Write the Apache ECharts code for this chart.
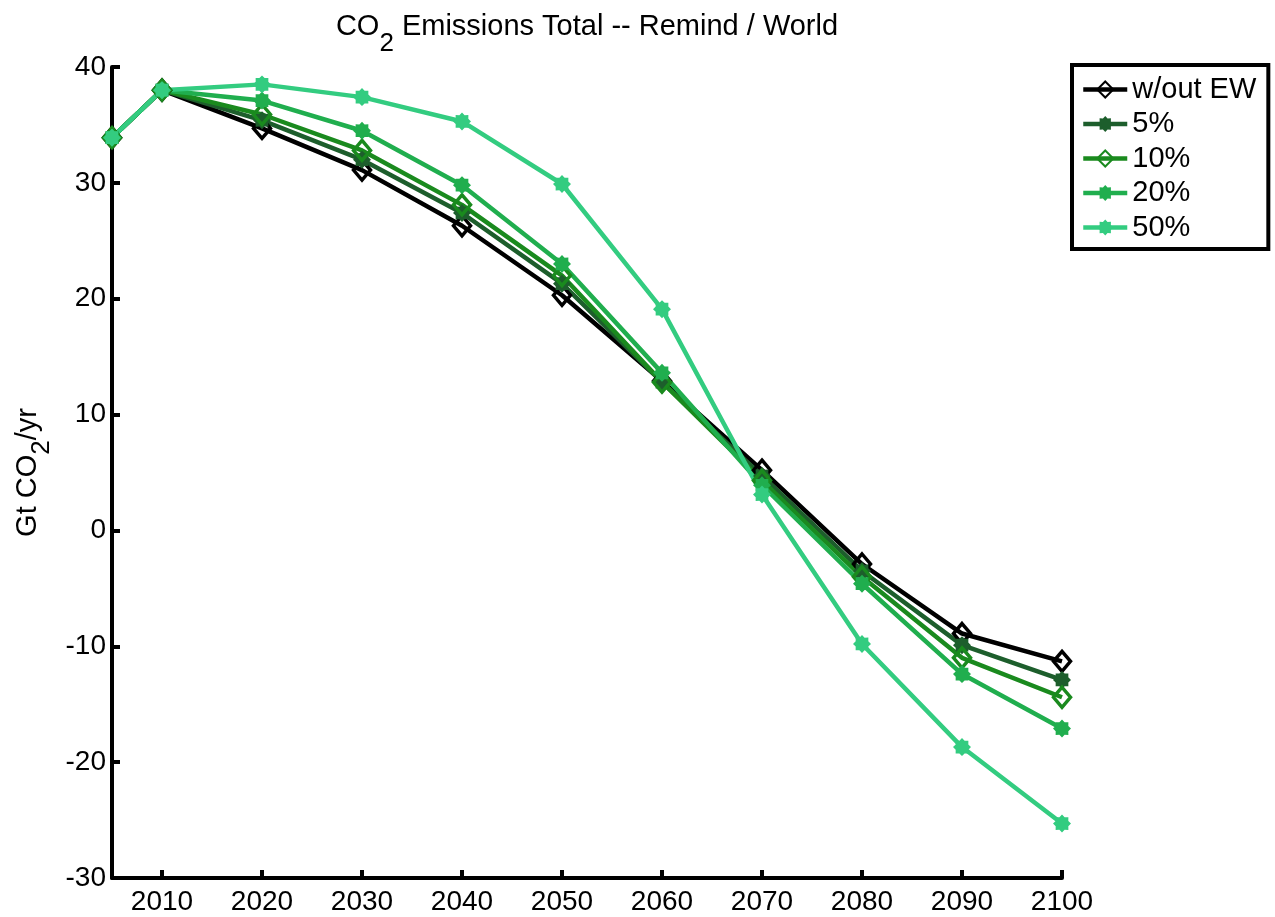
<!DOCTYPE html>
<html>
<head>
<meta charset="utf-8">
<script src="https://cdn.jsdelivr.net/npm/echarts@6/dist/echarts.min.js"></script>
<style>
html,body{margin:0;padding:0;background:#fff;}
#chart{width:1275px;height:917px;}
</style>
</head>
<body>
<div id="chart"></div>
<script>
// ---- data ----
var years = [2005, 2010, 2020, 2030, 2040, 2050, 2060, 2070, 2080, 2090, 2100];
var xTicks = [2010, 2020, 2030, 2040, 2050, 2060, 2070, 2080, 2090, 2100];
var seriesNames = ['w/out EW', '5%', '10%', '20%', '50%'];
var withoutEW = [33.9, 38.0, 34.7, 31.1, 26.3, 20.3, 12.9, 5.2, -2.9, -8.9, -11.3];
var ew5 = [33.9, 38.0, 35.4, 32.0, 27.4, 21.3, 12.8, 4.7, -3.5, -9.9, -12.9];
var ew10 = [33.9, 38.0, 35.9, 32.8, 28.1, 22.0, 12.8, 4.3, -4.0, -11.0, -14.4];
var ew20 = [33.9, 38.0, 37.1, 34.5, 29.8, 23.0, 13.6, 3.9, -4.6, -12.4, -17.1];
var ew50 = [33.9, 38.0, 38.5, 37.4, 35.3, 29.9, 19.1, 3.1, -9.8, -18.7, -25.3];

// ---- style ----
var colors = ['#000000', '#1d5e2c', '#1a8a1e', '#20ae4e', '#33cc80'];
var FONT = 'Liberation Sans';

function starPath(n, rOut, rIn) {
  var pts = [];
  for (var i = 0; i < 2 * n; i++) {
    var r = (i % 2 === 0) ? rOut : rIn;
    var a = Math.PI * i / n - Math.PI / 2;
    pts.push((50 + r * Math.cos(a)).toFixed(2) + ' ' + (50 + r * Math.sin(a)).toFixed(2));
  }
  return 'path://M' + pts.join(' L') + ' Z';
}
var asterisk = starPath(8, 50, 38);

function pairs(vals) {
  return years.map(function (y, i) { return [y, vals[i]]; });
}

function mkSeries(name, vals, color, hollowDiamond) {
  return {
    name: name,
    type: 'line',
    data: pairs(vals),
    symbol: hollowDiamond ? 'diamond' : asterisk,
    symbolSize: hollowDiamond ? [17, 20] : 18,
    showAllSymbol: true,
    lineStyle: { color: color, width: 4.5 },
    itemStyle: hollowDiamond
      ? { color: 'rgba(255,255,255,0)', borderColor: color, borderWidth: 3.5 }
      : { color: color, borderColor: color, borderWidth: 0 },
    emphasis: { disabled: true },
    animation: false
  };
}

var subRich = function (size, pad) {
  return {
    n: { fontFamily: FONT, fontSize: size, fontWeight: 'normal', color: '#000', lineHeight: 30, verticalAlign: 'top' },
    sub: { fontFamily: FONT, fontSize: size - 3, fontWeight: 'normal', color: '#000', lineHeight: 30, verticalAlign: 'top', padding: [pad, 0, 0, 0] }
  };
};

var chart = echarts.init(document.getElementById('chart'), null, { renderer: 'canvas' });
chart.setOption({
  backgroundColor: '#ffffff',
  animation: false,
  textStyle: { fontFamily: FONT },
  title: {
    text: '{n|CO}{sub|2}{n| Emissions Total -- Remind / World}',
    left: 582,
    textAlign: 'center',
    top: 7,
    textStyle: { fontWeight: 'normal', rich: subRich(29, 19) }
  },
  legend: {
    orient: 'vertical',
    left: 1072,
    top: 65,
    data: seriesNames,
    backgroundColor: '#fff',
    borderColor: '#000',
    borderWidth: 4,
    borderRadius: 0,
    padding: [10, 12, 7, 9],
    itemWidth: 44,
    itemHeight: 20,
    itemGap: 5.5,
    lineStyle: { width: 4.5 },
    textStyle: { fontFamily: FONT, fontSize: 29, color: '#000', lineHeight: 26 }
  },
  grid: { left: 112, right: 213, top: 67, bottom: 39, containLabel: false },
  xAxis: {
    type: 'value',
    min: 2005,
    max: 2100,
    splitLine: { show: false },
    axisLine: { onZero: false, lineStyle: { color: '#000', width: 4 } },
    axisTick: { inside: true, length: 8, lineStyle: { color: '#000', width: 4 }, customValues: xTicks },
    axisLabel: { customValues: xTicks, color: '#000', fontFamily: FONT, fontSize: 28, margin: 10, formatter: function (v) { return String(v); } }
  },
  yAxis: {
    type: 'value',
    min: -30,
    max: 40,
    interval: 10,
    name: '{n|Gt CO}{sub|2}{n|/yr}',
    nameLocation: 'middle',
    nameGap: 60,
    nameRotate: 90,
    nameTextStyle: { rich: subRich(29, 15) },
    splitLine: { show: false },
    axisLine: { onZero: false, lineStyle: { color: '#000', width: 4 } },
    axisTick: { inside: true, length: 8, lineStyle: { color: '#000', width: 4 } },
    axisLabel: { color: '#000', fontFamily: FONT, fontSize: 28, margin: 6 }
  },
  series: [
    mkSeries(seriesNames[0], withoutEW, colors[0], true),
    mkSeries(seriesNames[1], ew5, colors[1], false),
    mkSeries(seriesNames[2], ew10, colors[2], true),
    mkSeries(seriesNames[3], ew20, colors[3], false),
    mkSeries(seriesNames[4], ew50, colors[4], false)
  ]
});
</script>
</body>
</html>
